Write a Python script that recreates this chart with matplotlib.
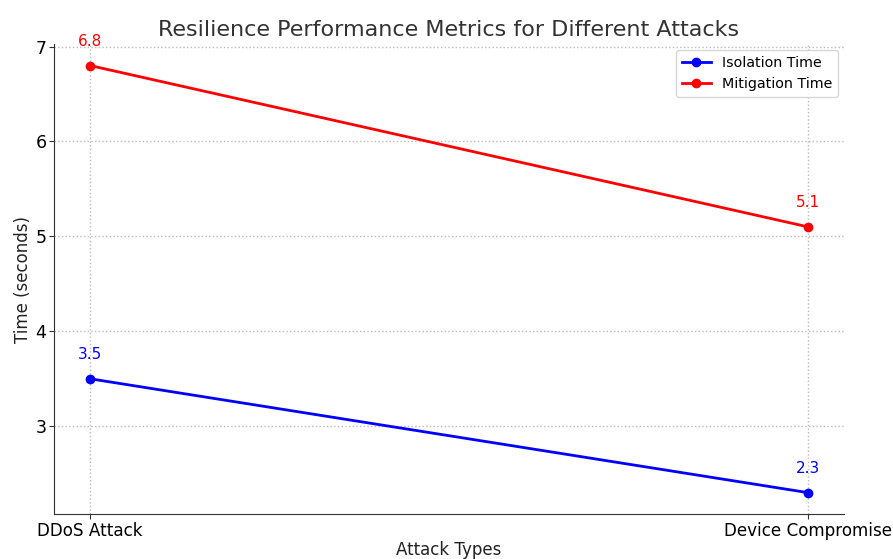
import matplotlib.pyplot as plt

attacks = ["DDoS Attack", "Device Compromise"]
isolation_time = [3.5, 2.3]
mitigation_time = [6.8, 5.1]


def main():
    fig, ax = plt.subplots(figsize=(8.93, 5.59), dpi=100)
    fig.subplots_adjust(left=0.0605, right=0.945, bottom=0.0805, top=0.921)

    x = range(len(attacks))
    ax.plot(x, isolation_time, marker="o", color="blue", lw=2, ms=6, label="Isolation Time")
    ax.plot(x, mitigation_time, marker="o", color="red", lw=2, ms=6, label="Mitigation Time")

    for xi, v in zip(x, isolation_time):
        ax.annotate(f"{v}", (xi, v), textcoords="offset points", xytext=(0, 14),
                    ha="center", color="blue", fontsize=11)
    for xi, v in zip(x, mitigation_time):
        ax.annotate(f"{v}", (xi, v), textcoords="offset points", xytext=(0, 14),
                    ha="center", color="red", fontsize=11)

    ax.set_xticks(list(x))
    ax.set_xticklabels(attacks, fontsize=12.1)
    ax.tick_params(axis="y", labelsize=12.5)
    ax.tick_params(length=3.5, pad=2, color="#333333")
    ax.set_yticks([3, 4, 5, 6, 7])

    ax.set_title("Resilience Performance Metrics for Different Attacks", fontsize=16, color="#333333")
    ax.set_xlabel("Attack Types", fontsize=12, color="#222222", labelpad=1)
    ax.set_ylabel("Time (seconds)", fontsize=12, color="#222222", labelpad=2)

    ax.grid(True, linestyle=":", color="#bbbbbb", lw=1)
    ax.spines["top"].set_visible(False)
    ax.spines["right"].set_visible(False)
    ax.spines["left"].set_color("#333333")
    ax.spines["bottom"].set_color("#333333")

    ax.legend(loc="upper right", fontsize=10.3, borderaxespad=0.4, labelspacing=0.55)

    fig.savefig("out.png")


if __name__ == "__main__":
    main()
